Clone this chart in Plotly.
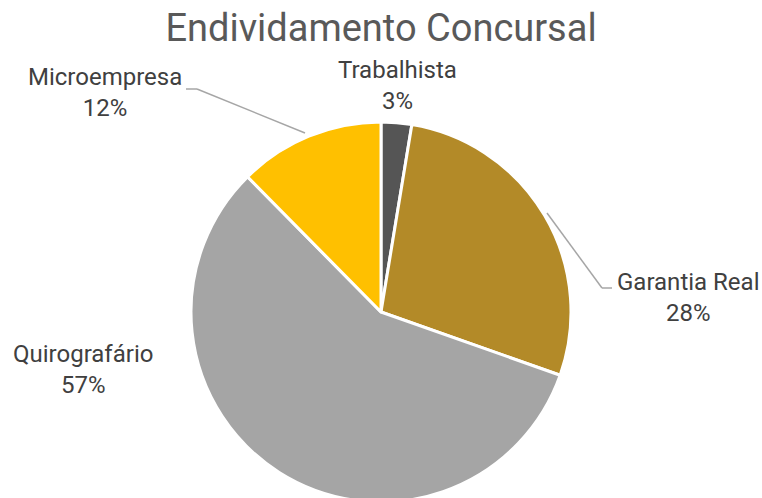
import plotly.graph_objects as go

categories = ["Trabalhista", "Garantia Real", "Quirografário", "Microempresa"]
values = [2.6, 27.8, 57.2, 12.4]
colors = ["#555555", "#B38A28", "#A5A5A5", "#FFC000"]

W, H = 762, 502  # pie is cropped slightly at the bottom of the 498px window

def px(x, y):
    return x / W, 1 - y / H

R = 190
CX = 381
fig = go.Figure(go.Pie(
    labels=categories,
    values=values,
    sort=False,
    direction="clockwise",
    rotation=0,
    textinfo="none",
    hoverinfo="label+percent",
    marker=dict(colors=colors, line=dict(color="white", width=3)),
    domain=dict(x=[(CX - R) / W, (CX + R) / W], y=[0, 2 * R / H]),
    showlegend=False,
))

font_lbl = dict(family="Roboto", size=24, color="#404040")
label_pos = {
    "Trabalhista": (397, 86),
    "Garantia Real": (688, 297),
    "Quirografário": (83, 369),
    "Microempresa": (105, 92),
}
total = sum(values)
annotations = []
for c, v in zip(categories, values):
    x, y = px(*label_pos[c])
    annotations.append(dict(
        x=x, y=y, xref="paper", yref="paper", xanchor="center", yanchor="middle",
        text=f"{c}<br>{round(100 * v / total)}%", showarrow=False, font=font_lbl,
        align="center",
    ))

shapes = []
def seg(p1, p2):
    x0, y0 = px(*p1)
    x1, y1 = px(*p2)
    shapes.append(dict(type="line", xref="paper", yref="paper", x0=x0, y0=y0, x1=x1, y1=y1,
                       line=dict(color="#A6A6A6", width=1.5)))

seg((186, 89), (197, 89))
seg((197, 89), (305, 133))
seg((547, 213), (602, 288))
seg((602, 288), (612, 288))

fig.update_layout(
    width=W, height=H,
    margin=dict(l=0, r=0, t=0, b=0),
    paper_bgcolor="white", plot_bgcolor="white",
    title=dict(text="Endividamento Concursal", x=0.5, xanchor="center", y=1 - 28 / H, yanchor="middle",
               font=dict(family="Roboto", size=38, color="#595959")),
    annotations=annotations,
    shapes=shapes,
)

fig.write_html("out.html",
               config={"displayModeBar": False},
               post_script="document.body.style.margin='0';document.body.style.overflow='hidden';")
